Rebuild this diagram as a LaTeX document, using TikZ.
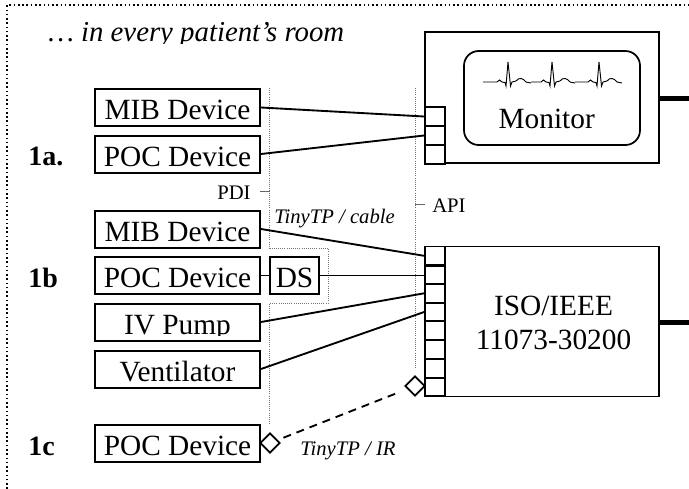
\documentclass[tikz,border=0pt]{standalone}
\usepackage{fontspec}
\setmainfont{Liberation Serif}
\usetikzlibrary{shapes.geometric}
\tikzset{
	device/.style={draw=black, line width=1.5pt, fill=white, inner sep=0pt, minimum width=123.75pt, minimum height=27.75pt, text height=18pt, text depth=0pt, font=\fontsize{22}{24}\selectfont},
	port/.style={draw=black, line width=1.3pt, fill=white, inner sep=0pt, minimum width=15pt, minimum height=14pt},
	unit/.style={draw=black, line width=1.3pt, fill=white, inner sep=0pt, minimum width=175.5pt},
	link/.style={draw=black, line width=1.4pt},
	rail/.style={draw=black!55, line width=0.6pt, densely dotted},
	tick/.style={draw=black!60, line width=0.5pt},
	bigtext/.style={black, anchor=base, inner sep=0pt, font=\fontsize{22}{24}\selectfont},
	smalltext/.style={black, anchor=base west, inner sep=0pt, font=\fontsize{15.5}{18}\selectfont},
	tagtext/.style={black, anchor=base west, inner sep=0pt, font=\fontsize{21}{24}\selectfont\bfseries},
	irport/.style={draw=black, line width=1.4pt, fill=white, shape=diamond, inner sep=0pt, minimum width=15pt, minimum height=15pt},
}
\begin{document}
\begin{tikzpicture}[x=0.75pt, y=-0.75pt]
	\useasboundingbox (0,0) rectangle (689,489);
	\draw[draw=black, line width=1.2pt, dotted] (7,489) -- (7,5) -- (689,5);
	\node[black, anchor=base west, inner sep=0pt, font=\fontsize{21.6}{24}\selectfont\itshape] (title) at (48,41.5) {… in every patient’s room};
	\fill[white] (40,43.5) rectangle (360,52);
	\draw[rail] (269.5,88) -- (269.5,248) -- (328,248) -- (328,303) -- (269.5,303) -- (269.5,425);
	\draw[rail] (415,88) -- (415,368);
	\node[device] (mibA) at (177.5,107.5) {MIB Device};
	\node[device] (pocA) at (177.5,154) {POC Device};
	\node[device] (mibB) at (177.5,229) {MIB Device};
	\node[device] (pocB) at (177.5,275.5) {POC Device};
	\node[device] (pump) at (177.5,322) {IV Pump};
	\node[device] (vent) at (177.5,369) {Ventilator};
	\node[device] (pocC) at (177.5,443) {POC Device};
	\fill[white] (100,335.5) rectangle (255,339.5);
	\node[device, minimum width=36.75pt] (ds) at (294.5,275.5) {DS};
	\node[unit, minimum height=98.25pt] (monitor) at (542,97.5) {};
	\node[unit, minimum height=112.5pt] (gateway) at (542,321.5) {};
	\draw[draw=black, line width=1.3pt, rounded corners=11pt] (464,51) rectangle (640,145);
	\foreach \i/\y in {1/116.5, 2/135.5, 3/154.3}
		\node[port] (mon\i) at (435,\y) {};
	\foreach \i/\y in {1/255.8, 2/275.5, 3/293.3, 4/312, 5/330.8, 6/349.5, 7/368.3, 8/387}
		\node[port] (gw\i) at (435,\y) {};
	\foreach \x/\s in {508/25, 552/21, 599/24}
		\draw[draw=black, line width=0.7pt] (\x-\s,82) -- (\x-11,82) -- (\x-8.5,80) -- (\x-6,82) -- (\x-3,82.5) -- (\x-2,86) -- (\x,62) -- (\x+2.5,86) -- (\x+4,82) -- (\x+8,81) .. controls (\x+11,77) and (\x+15,78) .. (\x+18,82) -- (\x+23,83);
	\node[bigtext] (montext) at (546.7,128.5) {Monitor};
	\node[bigtext] (isotext) at (553.5,315.7) {ISO/IEEE};
	\node[bigtext] (stdtext) at (553.5,349) {11073-30200};
	\node[tagtext] (tagA) at (28,165) {1a.};
	\node[tagtext] (tagB) at (28,287) {1b};
	\node[tagtext] (tagC) at (28,455) {1c};
	\node[smalltext] (pdi) at (217,199) {PDI};
	\node[smalltext] (api) at (432,212.7) {API};
	\node[smalltext, font=\fontsize{15.5}{18}\selectfont\itshape] (cable) at (274,223) {TinyTP / cable};
	\node[smalltext, font=\fontsize{15.5}{18}\selectfont\itshape] (infra) at (300,455.7) {TinyTP / IR};
	\coordinate (pditick) at (269.5,191);
	\coordinate (apitick) at (415,204);
	\coordinate (pdiend) at (260,191);
	\coordinate (apiend) at (425,204);
	\draw[tick] (pdiend) -- (pditick);
	\draw[tick] (apitick) -- (apiend);
	\draw[link] (mibA.east) -- (mon1.west);
	\draw[link] (pocA.east) -- (mon2.west);
	\draw[link] (mibB.east) -- (gw1.west);
	\draw[link] (pocB.east) -- (ds.west);
	\draw[link] (ds.east) -- (gw2.west);
	\draw[link] (pump.east) -- (gw3.west);
	\draw[link] (vent.east) -- (gw4.west);
	\node[irport] (irA) at (270,443) {};
	\node[irport] (irB) at (415,386) {};
	\draw[link, dash pattern=on 6pt off 4.5pt, shorten <=4.5pt, shorten >=6pt] (irA) -- (irB);
	\coordinate (monout) at (689,98);
	\coordinate (gwout) at (689,322);
	\draw[draw=black, line width=3.75pt] (monitor.east |- monout) -- (monout);
	\draw[draw=black, line width=3.75pt] (gateway.east |- gwout) -- (gwout);
\end{tikzpicture}
\end{document}
